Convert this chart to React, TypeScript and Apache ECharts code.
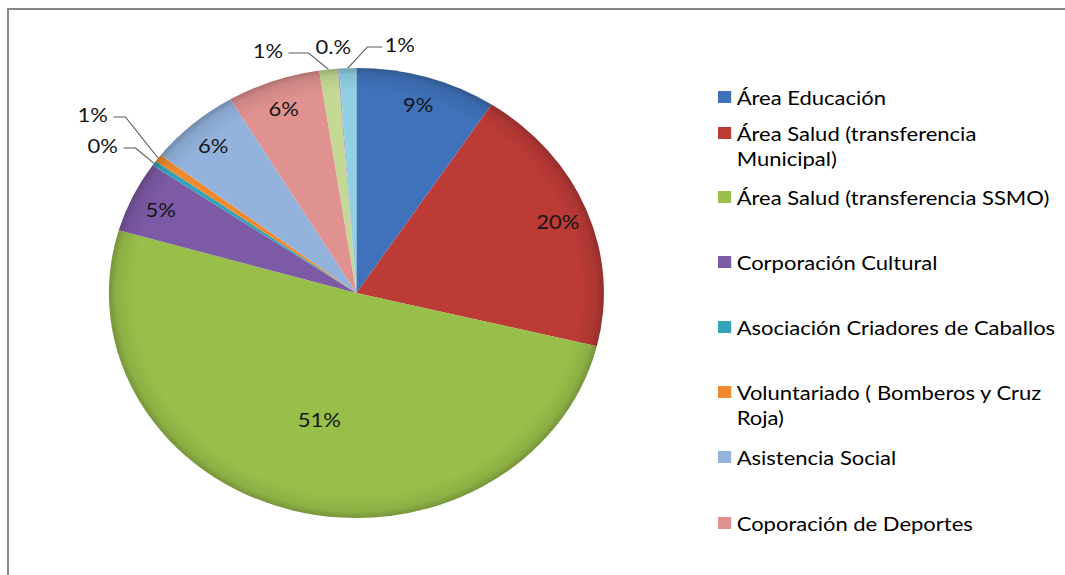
import React, { useEffect, useRef } from 'react';
import * as echarts from 'echarts';

// ---- data ----
const categories = [
  'Área Educación',
  'Área Salud (transferencia Municipal)',
  'Área Salud (transferencia SSMO)',
  'Corporación Cultural',
  'Asociación Criadores de Caballos',
  'Voluntariado ( Bomberos y Cruz Roja)',
  'Asistencia Social',
  'Coporación de Deportes',
  'Otros 1',
  'Otros 2',
  'Otros 3',
];
const values = [9.2, 19.6, 50.7, 5.1, 0.35, 0.55, 6.0, 6.1, 1.2, 0.1, 1.1];
const legendNames = categories.slice(0, 8);
const legendWrapped: Record<string, string> = {
  'Área Salud (transferencia Municipal)': ' \nÁrea Salud (transferencia\nMunicipal)',
  'Voluntariado ( Bomberos y Cruz Roja)': ' \nVoluntariado ( Bomberos y Cruz\nRoja)',
};
const customLabels: Record<number, string> = { 9: '0.%' };

// ---- styles / layout ----
const colors = [
  '#3f72ba', '#bc3b37', '#98bf4a', '#7d5aa5', '#32a3b9', '#f08a2c',
  '#93b2dc', '#df928f', '#c4da94', '#b3a2c7', '#8fd0e3',
];
const SX = 1.1;
const W = 1065 / SX;
const H = 575;
const CX = 324;
const CY = 293;
const R = 225;
const legendTops = [84.5, 95.5, 184.5, 249.5, 314.5, 354.5, 444.5, 510.5];
const insideFrac: Record<number, number> = { 2: 0.58 };
const outsideCfg: Record<number, { bdx: number; bdy: number; h: number; noLine?: boolean }> = {
  4: { bdx: -17, bdy: -15.3, h: -10.9 },
  5: { bdx: -29.8, bdy: -41.2, h: -10.9 },
  8: { bdx: -18.1, bdy: -16.4, h: -18.2 },
  9: { bdx: -4.7, bdy: -22.6, h: 0, noLine: true },
  10: { bdx: 17.8, bdy: -21.1, h: 13.6 },
};

function shade(hex: string, f: number) {
  const n = parseInt(hex.slice(1), 16);
  const r = Math.round(((n >> 16) & 255) * f);
  const g = Math.round(((n >> 8) & 255) * f);
  const b = Math.round((n & 255) * f);
  return `rgb(${Math.min(255, r)},${Math.min(255, g)},${Math.min(255, b)})`;
}

export default function App() {
  const ref = useRef<HTMLDivElement>(null);
  useEffect(() => {
    if (!ref.current) return;
    const chart = echarts.init(ref.current, null, { renderer: 'svg' });
    const total = values.reduce((a, b) => a + b, 0);
    const mids: number[] = [];
    let acc = 0;
    values.forEach((v) => {
      mids.push(acc + v / 2);
      acc += v;
    });
    const data = categories.map((name, i) => {
      const base = colors[i];
      const item: any = {
        name,
        value: values[i],
        itemStyle: {
          color: {
            type: 'radial',
            x: CX,
            y: CY,
            r: R,
            global: true,
            colorStops: [
              { offset: 0, color: base },
              { offset: 0.9, color: base },
              { offset: 0.97, color: shade(base, 0.92) },
              { offset: 1, color: shade(base, 0.78) },
            ],
          },
        },
      };
      if (outsideCfg[i]) {
        item.label = { position: 'outside' };
        item.labelLine = { show: !outsideCfg[i].noLine };
      }
      if (customLabels[i]) {
        item.label = { ...(item.label || {}), formatter: customLabels[i] };
      }
      return item;
    });
    const option: any = {
      animation: false,
      color: colors,
      legend: legendNames.map((n, k) => ({
        data: [{ name: n, itemStyle: { color: colors[k] } }],
        left: 652.7,
        top: legendTops[k],
        orient: 'vertical',
        padding: 0,
        itemWidth: 12,
        itemHeight: 12,
        icon: 'rect',
        selectedMode: false,
        formatter: (name: string) => legendWrapped[name] || name,
        textStyle: {
          fontFamily: 'Lato',
          fontSize: 20,
          color: '#000',
          lineHeight: 25,
        },
      })),
      series: [
        {
          type: 'pie',
          center: [CX, CY],
          radius: R,
          startAngle: 90,
          clockwise: true,
          percentPrecision: 0,
          data,
          label: {
            show: true,
            position: 'inside',
            formatter: '{d}%',
            fontFamily: 'Lato',
            fontSize: 20,
            color: '#151515',
          },
          labelLine: { lineStyle: { color: '#595959', width: 1 } },
          labelLayout: (p: any) => {
            const i = p.dataIndex;
            const th = (2 * Math.PI * mids[i]) / total;
            const s = Math.sin(th);
            const c = Math.cos(th);
            const cfg = outsideCfg[i];
            if (!cfg) {
              const f = insideFrac[i] ?? 0.875;
              return { x: CX + R * f * s, y: CY - R * f * c, align: 'center', verticalAlign: 'middle' };
            }
            const ex = CX + R * s;
            const ey = CY - R * c;
            if (cfg.noLine) {
              return { x: ex + cfg.bdx, y: ey + cfg.bdy, align: 'center', verticalAlign: 'middle' };
            }
            const bx = ex + cfg.bdx;
            const by = ey + cfg.bdy;
            const hx = bx + cfg.h;
            const right = cfg.h > 0;
            return {
              x: hx + (right ? 2 : -5),
              y: by - 3,
              align: right ? 'left' : 'right',
              verticalAlign: 'middle',
              labelLinePoints: [
                [ex, ey],
                [bx, by],
                [hx, by],
              ],
            };
          },
        },
      ],
    };
    chart.setOption(option);
    return () => chart.dispose();
  }, []);
  return (
    <div
      style={{
        position: 'absolute',
        left: 0,
        top: 0,
        width: 1065,
        height: 575,
        overflow: 'hidden',
        background: '#fff',
      }}
    >
      <div
        style={{
          position: 'absolute',
          left: 7,
          top: 8,
          width: 1200,
          height: 700,
          borderTop: '2px solid #878787',
          borderLeft: '2px solid #878787',
        }}
      />
      <div
        ref={ref}
        style={{
          position: 'absolute',
          left: 0,
          top: 0,
          width: W,
          height: H,
          transform: `scaleX(${SX})`,
          transformOrigin: '0 0',
        }}
      />
    </div>
  );
}
